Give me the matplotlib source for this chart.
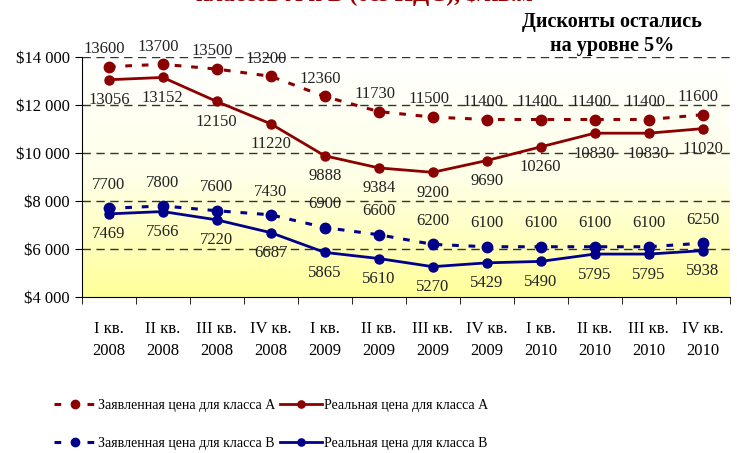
import numpy as np
import matplotlib.pyplot as plt
from matplotlib.colors import LinearSegmentedColormap

# ------
# Data
# ------
quarters = ["I кв.\n2008", "II кв.\n2008", "III кв.\n2008", "IV кв.\n2008",
            "I кв.\n2009", "II кв.\n2009", "III кв.\n2009", "IV кв.\n2009",
            "I кв.\n2010", "II кв.\n2010", "III кв.\n2010", "IV кв.\n2010"]
declared_a = [13600, 13700, 13500, 13200, 12360, 11730, 11500, 11400, 11400, 11400, 11400, 11600]
real_a = [13056, 13152, 12150, 11220, 9888, 9384, 9200, 9690, 10260, 10830, 10830, 11020]
declared_b = [7700, 7800, 7600, 7430, 6900, 6600, 6200, 6100, 6100, 6100, 6100, 6250]
real_b = [7469, 7566, 7220, 6687, 5865, 5610, 5270, 5429, 5490, 5795, 5795, 5938]
yticks = [4000, 6000, 8000, 10000, 12000, 14000]

plt.rcParams['font.family'] = ['Liberation Serif', 'DejaVu Serif']

red = "#8B0000"
blue = "#00008B"

fig = plt.figure(figsize=(7.37, 4.53), dpi=100)
ax = fig.add_axes([0.111, 0.344, 0.879, 0.53])

x = np.arange(len(quarters))
ax.set_xlim(-0.5, len(quarters) - 0.5)
ax.set_ylim(4000, 14000)

# background gradient white -> yellow
cmap = LinearSegmentedColormap.from_list("bg", ["#FFFF99", "#FFFFE8", "#FFFFFF"])
grad = np.linspace(0, 1, 256).reshape(-1, 1)
ax.imshow(grad, aspect="auto", cmap=cmap, origin="lower",
          extent=[-0.5, len(quarters) - 0.5, 4000, 14000], zorder=0)

for yv in yticks[1:]:
    ax.axhline(yv, color="#333333", lw=1, dashes=(6, 4), zorder=1)

dash = (2.2, 3.2)
l1, = ax.plot(x, declared_a, color=red, lw=2.2, dashes=dash, marker="o", ms=7.5, zorder=3)
l2, = ax.plot(x, real_a, color=red, lw=2, marker="o", ms=6.5, zorder=3)
l3, = ax.plot(x, declared_b, color=blue, lw=2.2, dashes=dash, marker="o", ms=7.5, zorder=3)
l4, = ax.plot(x, real_b, color=blue, lw=2, marker="o", ms=6.5, zorder=3)

lab_kw = dict(ha="center", fontsize=12, color="#222222", zorder=4)
for xi, v in zip(x, declared_a):
    ax.annotate(str(v), (xi, v), xytext=(-3, 7), textcoords="offset points", va="bottom", **lab_kw)
for xi, v in zip(x, real_a):
    ax.annotate(str(v), (xi, v), xytext=(0, -9), textcoords="offset points", va="top", **lab_kw)
for xi, v in zip(x, declared_b):
    ax.annotate(str(v), (xi, v), xytext=(0, 11), textcoords="offset points", va="bottom", **lab_kw)
for xi, v in zip(x, real_b):
    ax.annotate(str(v), (xi, v), xytext=(0, -9), textcoords="offset points", va="top", **lab_kw)

ax.set_yticks(yticks)
ax.set_yticklabels(["$" + format(v, ",").replace(",", " ") for v in yticks], fontsize=12)
ax.set_xticks(x)
ax.set_xticklabels(quarters, fontsize=12, linespacing=1.55)
ax.set_xticks(np.arange(-0.5, len(quarters)), minor=True)
ax.tick_params(axis="x", which="major", length=0, pad=17)
ax.tick_params(axis="x", which="minor", length=5, direction="out")
ax.tick_params(axis="y", length=5, direction="out")
for s in ["top", "right"]:
    ax.spines[s].set_visible(False)

# title (cut off at top) and annotation
fig.text(0.495, 1.012, "классов А и В (без НДС), $/кв.м", ha="center", va="center",
         fontsize=17, fontweight="bold", color="#990000")
fig.text(0.83, 0.925, "Дисконты остались\nна уровне 5%", ha="center", va="center",
         fontsize=14.5, fontweight="bold", linespacing=1.25)

fig.legend([l1, l3, l2, l4],
           ["Заявленная цена для класса А", "Заявленная цена для класса В",
            "Реальная цена для класса А", "Реальная цена для класса В"],
           ncol=2, loc="center", bbox_to_anchor=(0.368, 0.063), frameon=False,
           fontsize=10, handlelength=3.0, columnspacing=0.3, labelspacing=1.8,
           handletextpad=0.2, markerscale=0.8)
plt.savefig("out.png", dpi=100)
